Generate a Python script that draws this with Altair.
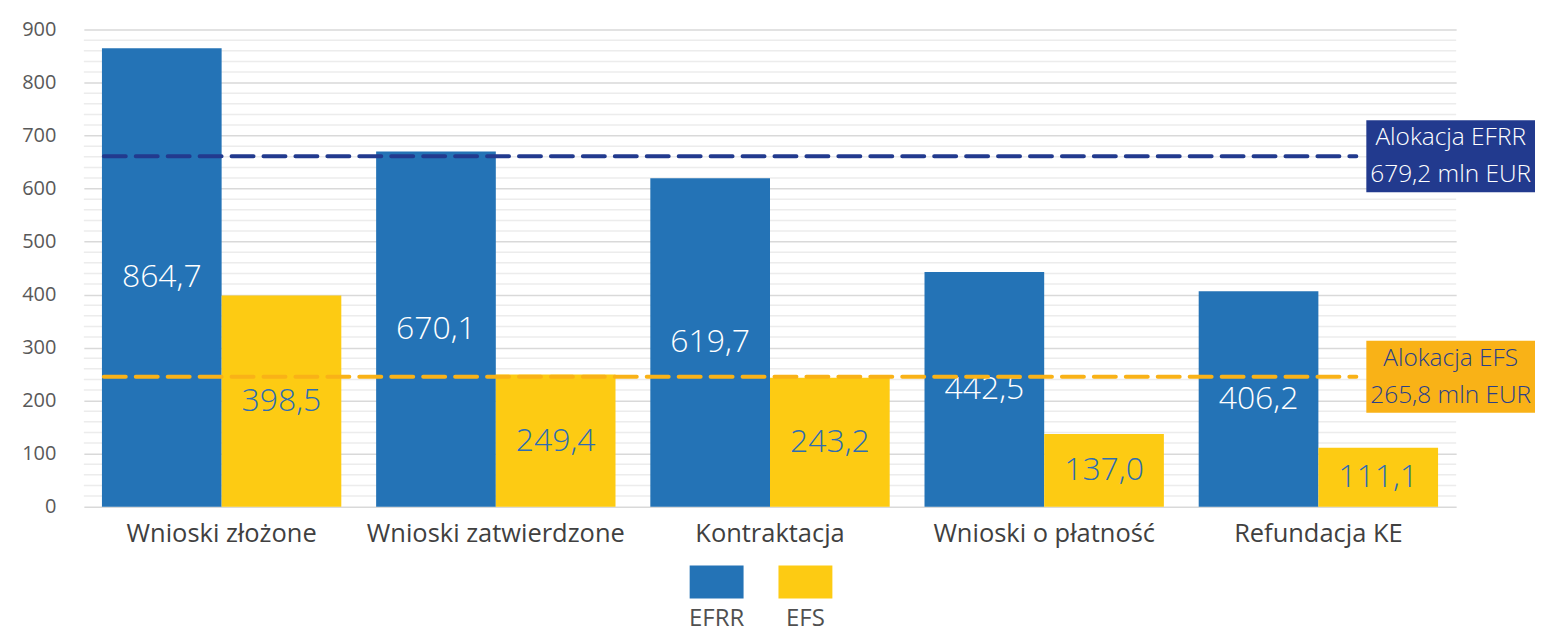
import altair as alt
import pandas as pd

categories = ["Wnioski złożone", "Wnioski zatwierdzone", "Kontraktacja", "Wnioski o płatność", "Refundacja KE"]
series = ["EFRR", "EFS"]
efrr = [864.7, 670.1, 619.7, 442.5, 406.2]
efs = [398.5, 249.4, 243.2, 137.0, 111.1]

alloc_series = ["EFRR", "EFS"]
alloc_drawn = [661, 245]
alloc_title = ["Alokacja EFRR", "Alokacja EFS"]
alloc_amount = ["679,2 mln EUR", "265,8 mln EUR"]

y_ticks = list(range(0, 901, 100))
minor_grid = [v for v in range(20, 900, 20) if v % 100]

BLUE = "#2473B6"
YELLOW = "#FDCB13"
NAVY = "#223A8E"
ORANGE = "#F9B217"
TXT_NAVY = "#2A3F8A"

rows = []
for c, a, b in zip(categories, efrr, efs):
    rows.append({"cat": c, "series": "EFRR", "value": a})
    rows.append({"cat": c, "series": "EFS", "value": b})
df = pd.DataFrame(rows)

alloc = pd.DataFrame({
    "series": alloc_series,
    "value": alloc_drawn,
    "text": [f"{t}\n{a}" for t, a in zip(alloc_title, alloc_amount)],
})
grid = pd.DataFrame({"g": minor_grid})

W, H = 1375, 478
yscale = alt.Scale(domain=[0, 900], nice=False)
yaxis = alt.Axis(title=None, values=y_ticks, labelFontSize=20, labelColor="#595959",
                 domain=False, ticks=False, labelPadding=28, grid=True,
                 gridColor="#d9d9d9", gridWidth=1.5, labelFont="Open Sans")
xenc = alt.X("cat:N", sort=categories,
             scale=alt.Scale(paddingInner=0.127, paddingOuter=0.066),
             axis=alt.Axis(title=None, labelAngle=0, labelFontSize=25.5, labelColor="#404040",
                           domain=False, ticks=False, labelPadding=15, labelFont="Open Sans",
                           labelLimit=400))
xoff = alt.XOffset("series:N", sort=series)

minor = alt.Chart(grid).mark_rule(color="#ececec", strokeWidth=1.5).encode(
    y=alt.Y("g:Q", scale=yscale, axis=yaxis),
    x=alt.value(0), x2=alt.value(W),
)

bars = alt.Chart(df).mark_bar().encode(
    x=xenc,
    xOffset=xoff,
    y=alt.Y("value:Q", scale=yscale, axis=yaxis),
    color=alt.Color("series:N", scale=alt.Scale(domain=series, range=[BLUE, YELLOW]), legend=None),
)

labels = alt.Chart(df).transform_calculate(
    mid="datum.value / 2",
    lab="replace(format(datum.value, '.1f'), '.', ',')",
).mark_text(fontSize=32, font="Open Sans", fontWeight=300, baseline="middle").encode(
    x=xenc,
    xOffset=xoff,
    y=alt.Y("mid:Q", scale=yscale, axis=yaxis),
    text="lab:N",
    color=alt.condition(alt.datum.series == "EFRR", alt.value("white"), alt.value("#2E6DB4")),
)

lines = alt.Chart(alloc).mark_rule(strokeDash=[22, 10], strokeWidth=4, strokeCap="round").encode(
    y=alt.Y("value:Q", scale=yscale, axis=yaxis),
    x=alt.value(20), x2=alt.value(1275),
    color=alt.condition(alt.datum.series == "EFRR", alt.value(NAVY), alt.value(ORANGE)),
)

boxes = alt.Chart(alloc).transform_calculate(
    top="datum.value + 68", bot="datum.value - 68"
).mark_rect().encode(
    y=alt.Y("top:Q", scale=yscale, axis=yaxis), y2="bot:Q",
    x=alt.value(1285), x2=alt.value(1454),
    color=alt.condition(alt.datum.series == "EFRR", alt.value(NAVY), alt.value(ORANGE)),
)

box_text = alt.Chart(alloc).mark_text(fontSize=24.5, font="Open Sans", fontWeight=300,
                                      lineBreak="\n", lineHeight=37, baseline="middle",
                                      align="center", dy=-18).encode(
    y=alt.Y("value:Q", scale=yscale, axis=yaxis),
    x=alt.value(1369.5),
    text="text:N",
    color=alt.condition(alt.datum.series == "EFRR", alt.value("white"), alt.value(TXT_NAVY)),
)

main = alt.layer(minor, bars, labels, lines, boxes, box_text).properties(width=W, height=H)

leg = pd.DataFrame({"series": series})
legend = alt.Chart(leg).mark_rect().encode(
    x=alt.X("series:N", sort=series,
            scale=alt.Scale(range=[607, 750], paddingInner=0.393, paddingOuter=0),
            axis=alt.Axis(title=None, labelAngle=0, labelFontSize=24, labelColor="#505050",
                          domain=False, ticks=False, labelPadding=8, labelFont="Open Sans")),
    color=alt.Color("series:N", scale=alt.Scale(domain=series, range=[BLUE, YELLOW]), legend=None),
).properties(width=W, height=33)

chart = alt.vconcat(main, legend, spacing=59, bounds="flush").properties(
    padding={"left": 13, "top": 11, "right": 0, "bottom": 5}
).configure(font="Open Sans", background="white").configure_view(strokeWidth=0, stroke="transparent")

chart.save("out.html", embed_options={"renderer": "svg", "actions": False})
